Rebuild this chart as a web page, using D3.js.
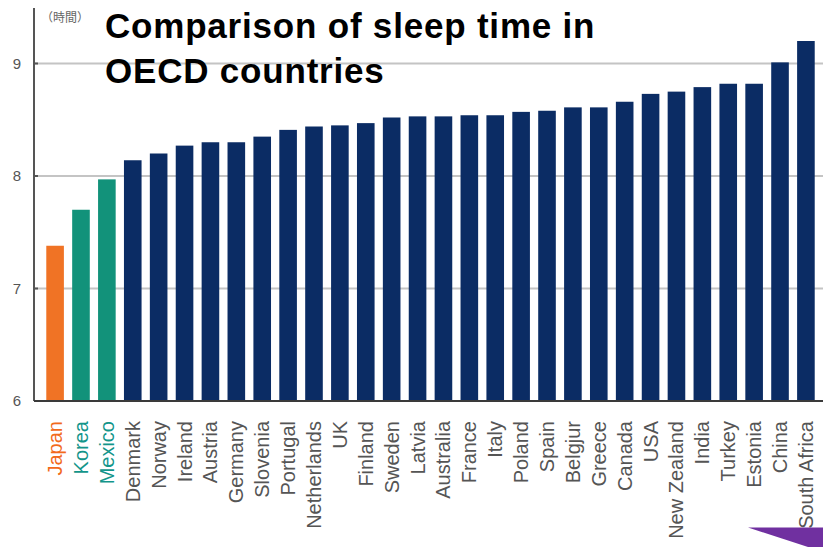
<!DOCTYPE html>
<html>
<head>
<meta charset="utf-8">
<script src="https://cdn.jsdelivr.net/npm/d3@7"></script>
<style>
  html, body { margin: 0; padding: 0; background: #fff; }
  svg { display: block; }
</style>
</head>
<body>
<svg id="chart" width="823" height="547"></svg>
<script>
// Average daily sleep time (hours) by country, ascending
const countries = ["Japan", "Korea", "Mexico", "Denmark", "Norway", "Ireland", "Austria", "Germany",
  "Slovenia", "Portugal", "Netherlands", "UK", "Finland", "Sweden", "Latvia", "Australia", "France",
  "Italy", "Poland", "Spain", "Belgjur", "Greece", "Canada", "USA", "New Zealand", "India", "Turkey",
  "Estonia", "China", "South Africa"];
const sleepHours = [7.38, 7.70, 7.97, 8.14, 8.20, 8.27, 8.30, 8.30,
  8.35, 8.41, 8.44, 8.45, 8.47, 8.52, 8.53, 8.53, 8.54,
  8.54, 8.57, 8.58, 8.61, 8.61, 8.66, 8.73, 8.75, 8.79, 8.82,
  8.82, 9.01, 9.20];
const yTicks = [6, 7, 8, 9];
const highlightJapan = ["Japan"];
const highlightGreen = ["Korea", "Mexico"];

const svg = d3.select("#chart");
const W = 823, H = 547;

const x = d3.scaleBand().domain(countries).range([38, 823]).paddingInner(0.32).paddingOuter(0.32);
const y = d3.scaleLinear().domain([6, 9]).range([401, 63.5]);

const barColor = c => highlightJapan.includes(c) ? "#f07325" : highlightGreen.includes(c) ? "#12927a" : "#0b2c64";
const labelColor = c => highlightJapan.includes(c) ? "#f26a1b" : highlightGreen.includes(c) ? "#13958a" : "#555";

// horizontal gridlines
svg.append("g").selectAll("line").data(yTicks.filter(t => t > 6)).join("line")
  .attr("x1", 34).attr("x2", W)
  .attr("y1", d => y(d)).attr("y2", d => y(d))
  .attr("stroke", "#c4c4c4").attr("stroke-width", 2);

// bars
svg.append("g").selectAll("rect").data(countries).join("rect")
  .attr("x", d => x(d))
  .attr("width", x.bandwidth())
  .attr("y", (d, i) => y(sleepHours[i]))
  .attr("height", (d, i) => y(6) - y(sleepHours[i]))
  .attr("fill", d => barColor(d));

// y axis
const yAxis = svg.append("g").attr("transform", "translate(34,0)")
  .call(d3.axisLeft(y).tickValues(yTicks).tickFormat(d3.format("d")).tickSize(0).tickPadding(13));
yAxis.select(".domain").remove();
yAxis.selectAll("text").attr("fill", "#555").attr("font-size", 15)
  .attr("font-family", "Liberation Sans, Arial, sans-serif");
svg.append("line").attr("x1", 34).attr("x2", 34).attr("y1", 8).attr("y2", y(6))
  .attr("stroke", "#555").attr("stroke-width", 2);
svg.append("g").selectAll("line").data(yTicks.filter(t => t > 6)).join("line")
  .attr("x1", 34).attr("x2", 38).attr("y1", d => y(d)).attr("y2", d => y(d))
  .attr("stroke", "#555").attr("stroke-width", 2);

// baseline
svg.append("line").attr("x1", 34).attr("x2", W).attr("y1", y(6)).attr("y2", y(6))
  .attr("stroke", "#3a3a3a").attr("stroke-width", 2);

// unit
svg.append("text").attr("x", 41).attr("y", 22)
  .attr("font-family", "Noto Sans CJK JP, sans-serif").attr("font-size", 12)
  .attr("fill", "#666").text("（時間）");

// category labels, rotated
svg.append("g").selectAll("text").data(countries).join("text")
  .attr("transform", d => `translate(${x(d) + x.bandwidth() / 2 + 7},421) rotate(-90)`)
  .attr("text-anchor", "end")
  .attr("font-family", "Liberation Sans, Arial, sans-serif")
  .attr("font-size", 20)
  .attr("fill", d => labelColor(d))
  .text(d => d);

// title
const title = svg.append("text").attr("font-family", "Liberation Sans, Arial, sans-serif")
  .attr("font-weight", "bold").attr("font-size", 35).attr("letter-spacing", 0.8).attr("fill", "#000");
title.append("tspan").attr("x", 105).attr("y", 38).text("Comparison of sleep time in");
title.append("tspan").attr("x", 105).attr("y", 83).text("OECD countries");

// corner marker
svg.append("polygon")
  .attr("points", [[748, 527.5], [W, 527.5], [W, H], [808, H]].map(p => p.join(",")).join(" "))
  .attr("fill", "#7030a0");
</script>
</body>
</html>
